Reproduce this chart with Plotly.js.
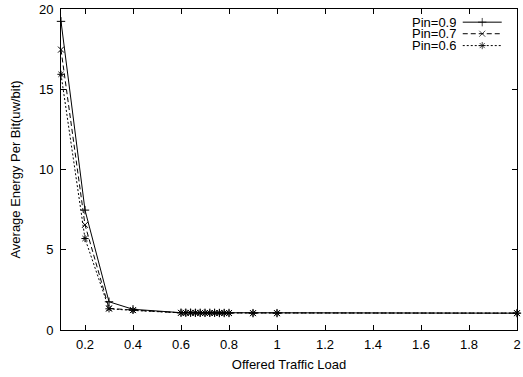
<!DOCTYPE html>
<html>
<head>
<meta charset="utf-8">
<script src="https://cdn.plot.ly/plotly-3.0.1.min.js"></script>
<style>html,body{margin:0;padding:0;background:#fff;}#chart{width:523px;height:377px;}</style>
</head>
<body>
<div id="chart"></div>
<script>
// Data
const loads = [0.1, 0.2, 0.3, 0.4, 0.6, 0.62, 0.64, 0.66, 0.68, 0.7, 0.72, 0.74, 0.76, 0.78, 0.8, 0.9, 1.0, 2.0];
const pin09 = [19.23, 7.47, 1.76, 1.29, 1.08, 1.08, 1.08, 1.07, 1.07, 1.07, 1.07, 1.07, 1.06, 1.06, 1.06, 1.05, 1.05, 1.05];
const pin07 = [17.47, 6.55, 1.35, 1.24, 1.07, 1.07, 1.07, 1.07, 1.07, 1.06, 1.06, 1.06, 1.06, 1.06, 1.06, 1.05, 1.05, 1.05];
const pin06 = [15.93, 5.70, 1.32, 1.22, 1.07, 1.07, 1.07, 1.07, 1.06, 1.06, 1.06, 1.06, 1.06, 1.06, 1.05, 1.05, 1.05, 1.05];
const seriesNames = ["Pin=0.9", "Pin=0.7", "Pin=0.6"];
const seriesValues = [pin09, pin07, pin06];
const xTitle = "Offered Traffic Load";
const yTitle = "Average Energy Per Bit(uw/bit)";

const styles = [
  {dash: "solid", symbol: "cross-thin-open"},
  {dash: "5px,3px", symbol: "x-thin-open"},
  {dash: "2px,2px", symbol: "asterisk-open"}
];
const font = {family: "'Liberation Sans', Arial, Helvetica, sans-serif", size: 13, color: "#000"};

const traces = [];
seriesValues.forEach((vals, i) => {
  traces.push({
    x: loads, y: vals, type: "scatter", mode: "lines+markers", name: seriesNames[i],
    line: {color: "#000", width: 1, dash: styles[i].dash},
    marker: {symbol: styles[i].symbol, size: 6, color: "#000", line: {color: "#000", width: 1}},
    showlegend: false, cliponaxis: false
  });
});

// gnuplot-style key: text on the left, sample on the right (drawn on an overlay axis 0..1)
const keyRowY = [0.959, 0.923, 0.886];
const keyX0 = 0.881, keyX1 = 0.9665;
const annotations = [];
seriesNames.forEach((n, i) => {
  traces.push({
    x: [keyX0, (keyX0 + keyX1) / 2, keyX1], y: [keyRowY[i], keyRowY[i], keyRowY[i]],
    xaxis: "x2", yaxis: "y2", type: "scatter", mode: "lines+markers", showlegend: false,
    hoverinfo: "skip",
    line: {color: "#000", width: 1, dash: styles[i].dash},
    marker: {symbol: styles[i].symbol, size: [0, 6, 0], color: "#000", line: {color: "#000", width: 1}}
  });
  annotations.push({
    xref: "paper", yref: "paper", x: 0.868, y: keyRowY[i], xanchor: "right", yanchor: "middle",
    text: n, showarrow: false, font: font, height: 11, borderpad: 0
  });
});

const axisCommon = {
  showgrid: false, zeroline: false, showline: true, linecolor: "#000", linewidth: 1,
  mirror: "allticks", ticks: "inside", ticklen: 5, tickcolor: "#000", tickwidth: 1,
  tickfont: font
};

const layout = {
  width: 523, height: 377,
  margin: {l: 60.5, r: 6, t: 8.5, b: 47},
  paper_bgcolor: "#fff", plot_bgcolor: "#fff",
  font: font,
  showlegend: false,
  xaxis: Object.assign({}, axisCommon, {
    range: [0.1, 2], tick0: 0, dtick: 0.2, ticklabelstandoff: 2,
    title: {text: xTitle, font: font, standoff: 9}
  }),
  yaxis: Object.assign({}, axisCommon, {
    range: [0, 20], tick0: 0, dtick: 5, ticklabelstandoff: 4,
    title: {text: yTitle, font: font, standoff: 15}
  }),
  xaxis2: {overlaying: "x", range: [0, 1], visible: false, anchor: "y2"},
  yaxis2: {overlaying: "y", range: [0, 1], visible: false, anchor: "x2"},
  annotations: annotations
};

Plotly.newPlot("chart", traces, layout, {staticPlot: true, displayModeBar: false});
</script>
</body>
</html>
